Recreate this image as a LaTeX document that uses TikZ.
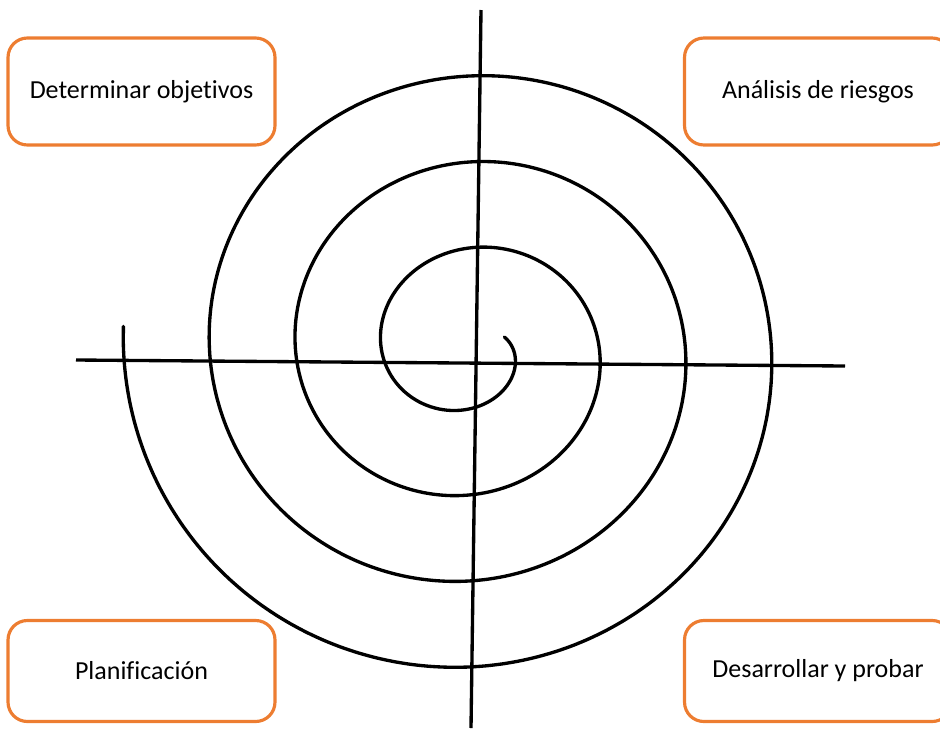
\documentclass[tikz,border=0pt]{standalone}
\usepackage{fontspec}
\setmainfont{Carlito}[Ligatures=NoCommon]
\usetikzlibrary{calc}
\definecolor{boxorange}{RGB}{237,125,49}
\tikzset{
  phase/.style={draw=boxorange, line width=1.8pt, rounded corners=11pt, fill=white,
    minimum width=5.34cm, font=\fontsize{14.8}{17}\selectfont},
  axisline/.style={line width=1.9pt},
}

\begin{document}
\begin{tikzpicture}[x=0.02cm,y=-0.02cm]
        \useasboundingbox (0,0) rectangle (940,731);

        % Axes
        \coordinate (north) at (481,10);
        \coordinate (south) at (471,728);
        \coordinate (west) at (76,360);
        \coordinate (east) at (845,366);
        \draw[axisline] (north) -- (south);
        \draw[axisline] (west) -- (east);

        % Spiral (3.5 turns, clockwise outward)
        \draw[line width=1.9pt, line cap=round, smooth, samples=400, domain=-24:1264, variable=\t]
            plot ({469+(44.5+(\t/360)*86)*cos(\t)}, {350+(37.5+(\t/360)*86)*sin(\t)});

        % Phase boxes
        \node[phase, minimum height=2.14cm] (objetivos) at (141.5,91.5) {Determinar objetivos};
        \node[phase, minimum height=2.14cm] (riesgos) at (818,91.5) {Análisis de riesgos};
        \node[phase, minimum height=2.02cm] (planificacion) at (141.5,671) {Planificación};
        \node[phase, minimum height=2.02cm] (desarrollo) at (818,671) {Desarrollar y probar};
\end{tikzpicture}
\end{document}
